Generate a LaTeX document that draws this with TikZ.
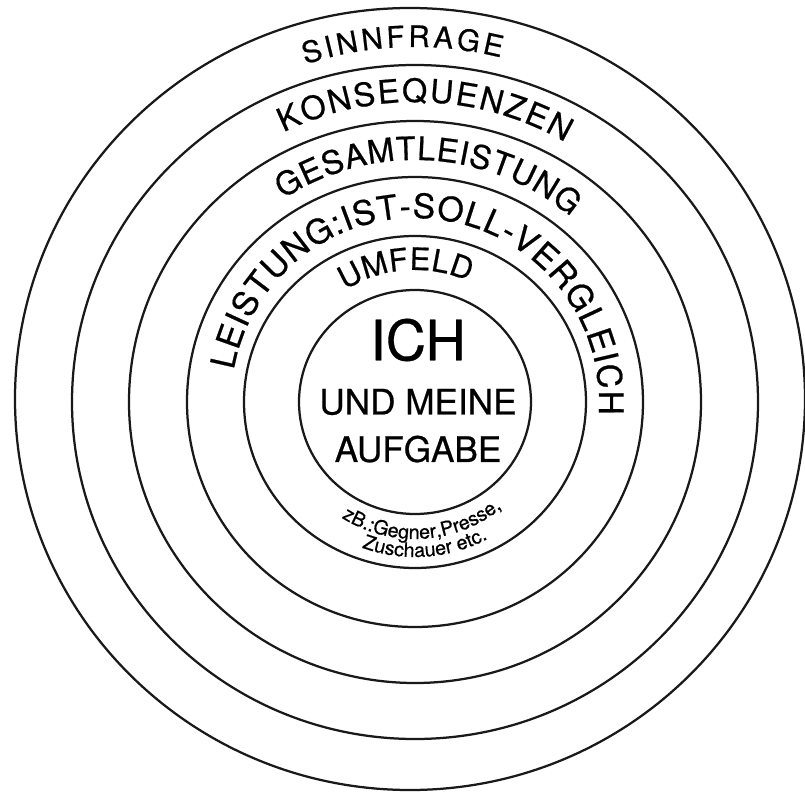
\documentclass[tikz,border=0pt]{standalone}
\usepackage{fontspec}
\setmainfont{TeX Gyre Heros}[FakeBold=0.6]
\usetikzlibrary{positioning,decorations.text}

\begin{document}
\begin{tikzpicture}[
    ring/.style={
    line width=1.6pt,
    draw=black!90
    },
    bogen/.style 2 args={
    decorate,
    decoration={
      text along path,
      text align={fit to path},
      text={|\fontsize{#1}{#1}\selectfont|#2}
    }
    },
    klein/.style={
    decorate,
    decoration={
      text along path,
      text align=center,
      text={|\fontsize{14pt}{14pt}\selectfont|#1}
    }
    },
    mitte/.style={
    inner sep=0pt,
    font=\fontsize{25pt}{25pt}\selectfont
    }
    ]

    \useasboundingbox (-10.375,-9.75) rectangle (9.75,10.05);

    % Kreise von innen nach aussen
    \foreach \rx/\ry in {2.9/2.8,4.275/4.15,5.7/5.625,7.15/7.025,8.575/8.425}
      \draw[ring] (0,0) ellipse[x radius=\rx,y radius=\ry];
    \draw[ring] (-0.125,0.075) ellipse[x radius=9.875,y radius=9.775];

    % Beschriftung der Ringe
    \path[bogen={21pt}{SINNFRAGE}]
      (108:8.875) arc[start angle=108,end angle=76,radius=8.875];
    \path[bogen={23pt}{KONSEQUENZEN}]
      (116:7.5) arc[start angle=116,end angle=60,radius=7.5];
    \path[bogen={23pt}{GESAMTLEISTUNG}]
      (123:6.05) arc[start angle=123,end angle=50,radius=6.05];
    \path[bogen={24pt}{LEISTUNG:IST-SOLL-VERGLEICH}]
      (170:4.6) arc[start angle=170,end angle=-4,radius=4.6];
    \path[bogen={22pt}{UMFELD}]
      (122:3.3) arc[start angle=122,end angle=66,radius=3.3];

    % Beispiele unten im Umfeld
    \path[klein={zB.:Gegner,Presse,}]
      (225:3.425) arc[start angle=225,end angle=322,radius=3.425];
    \path[klein={Zuschauer etc.}]
      (240:3.875) arc[start angle=240,end angle=308,radius=3.875];

    % Mitte
    \node[mitte,font=\fontsize{39.6pt}{40pt}\selectfont]
    (ich) at (0.075,1.55) {ICH};

    \node[mitte,below=0.675cm of ich]
    (meine) {UND MEINE};

    \node[mitte,below=0.5cm of meine]
    (aufgabe) {AUFGABE};

\end{tikzpicture}
\end{document}
